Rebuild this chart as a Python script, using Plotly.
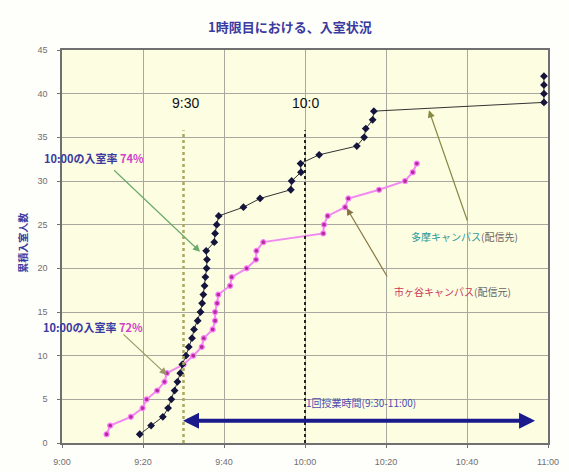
import plotly.graph_objects as go

# Minutes after 9:00 and cumulative number of students who have entered the room
tama_minutes = [19.2, 22.0, 24.9, 26.2, 27.0, 27.8, 28.5, 29.2, 29.7, 30.6, 31.3, 32.1,
                32.6, 33.5, 34.2, 34.6, 34.9, 35.2, 35.4, 35.7, 35.8, 35.6, 37.6, 37.8,
                38.2, 38.7, 44.8, 48.9, 56.5, 56.7, 59.0, 58.9, 63.5, 72.8, 74.6, 75.0,
                76.7, 77.0, 119.0, 119.0, 119.0, 119.0]
tama_count = list(range(1, 43))

ichigaya_minutes = [11.0, 11.9, 17.0, 19.9, 20.9, 23.5, 25.3, 25.9, 30.0, 32.4, 34.5, 35.0,
                    37.2, 37.8, 37.8, 38.3, 38.6, 41.5, 41.9, 45.6, 47.9, 48.0, 49.7, 64.5,
                    64.7, 65.6, 69.9, 70.7, 78.3, 84.7, 86.6, 87.6]
ichigaya_count = list(range(1, 33))

tick_minutes = [0, 20, 40, 60, 80, 100, 120]
tick_labels = ["9:00", "9:20", "9:40", "10:00", "10:20", "10:40", "11:00"]
y_ticks = [0, 5, 10, 15, 20, 25, 30, 35, 40, 45]

CLASS_START = 30
CLASS_MARK = 60
CLASS_END = 120
MARKER_TOP = 35.8

JP = "Noto Sans CJK JP, Arial, sans-serif"

fig = go.Figure()

fig.add_trace(go.Scatter(
    x=ichigaya_minutes, y=ichigaya_count, mode="lines+markers",
    name="市ヶ谷キャンパス(配信元)",
    line=dict(color="#f08af0", width=2),
    marker=dict(symbol="circle", size=5, color="#b0309a",
                line=dict(color="#ff7cff", width=1.2)),
))
fig.add_trace(go.Scatter(
    x=tama_minutes, y=tama_count, mode="lines+markers",
    name="多摩キャンパス(配信先)",
    line=dict(color="#333333", width=1),
    marker=dict(symbol="diamond", size=6, color="#14143c"),
))

# reference lines for 9:30 and 10:00
fig.add_shape(type="line", x0=CLASS_START, x1=CLASS_START, y0=0, y1=MARKER_TOP,
              line=dict(color="#a8a860", width=2.5, dash="dot"))
fig.add_shape(type="line", x0=CLASS_MARK, x1=CLASS_MARK, y0=0, y1=MARKER_TOP,
              line=dict(color="#111111", width=1.8, dash="dot"))

annotations = [
    dict(text="<b>1時限目における、入室状況</b>", xref="paper", yref="paper",
         x=0.469, y=1.089, showarrow=False,
         font=dict(family=JP, size=13, color="#3a3aa0")),
    dict(text="<b>累積入室人数</b>", xref="paper", yref="paper", x=-0.1, y=0.509,
         textangle=-90, showarrow=False, font=dict(family=JP, size=10, color="#3a3aa0")),
    dict(text="9:30", x=30.5, y=38.9, showarrow=False,
         font=dict(family="Arial", size=14, color="#111111")),
    dict(text="10:0", x=60.2, y=38.9, showarrow=False,
         font=dict(family="Arial", size=14, color="#111111")),
    dict(text="<b>10:00の入室率 <span style='color:#d040c8'>74%</span></b>", x=7.9, y=32.6,
         showarrow=False, font=dict(family=JP, size=11, color="#3a3aa0")),
    dict(text="<b>10:00の入室率 <span style='color:#d040c8'>72%</span></b>", x=7.7, y=13.3,
         showarrow=False, font=dict(family=JP, size=11, color="#3a3aa0")),
    dict(text="1回授業時間(9:30-11:00)", x=73.8, y=4.6, showarrow=False,
         font=dict(family=JP, size=10, color="#4a4ab0")),
    dict(text="<span style='color:#2a9a9a'>多摩キャンパス</span>(配信先)", x=99.5, y=23.7,
         showarrow=False, font=dict(family=JP, size=10, color="#666666")),
    dict(text="<span style='color:#c83a5a'>市ヶ谷キャンパス</span>(配信元)", x=96.5, y=17.3,
         showarrow=False, font=dict(family=JP, size=10, color="#666666")),
]

# pointer arrows (head at x,y; tail at ax,ay in data units)
arrows = [
    (34.1, 21.9, 12.5, 31.4, "#6aaa6a", 1.2),
    (25.9, 7.8, 14.8, 12.6, "#999966", 1.2),
    (90.6, 38.1, 100.2, 25.3, "#888844", 1.2),
    (70.3, 26.9, 80.5, 18.9, "#887744", 1.2),
]
for hx, hy, tx, ty, col, w in arrows:
    annotations.append(dict(text="", x=hx, y=hy, ax=tx, ay=ty, axref="x", ayref="y",
                            showarrow=True, arrowhead=2, arrowsize=1.2, arrowwidth=w,
                            arrowcolor=col, standoff=0, startstandoff=0))

# class-period double arrow
annotations.append(dict(text="", x=116.8, y=2.55, ax=CLASS_START - 0.5, ay=2.55,
                        axref="x", ayref="y", showarrow=True, arrowhead=2,
                        arrowside="end+start", arrowsize=0.8, arrowwidth=4,
                        arrowcolor="#1a1a8c", standoff=0, startstandoff=0))

fig.update_layout(
    width=569, height=472,
    margin=dict(l=62, r=21, t=50, b=29),
    paper_bgcolor="#fefefb",
    plot_bgcolor="#fdfde2",
    showlegend=False,
    annotations=annotations,
    xaxis=dict(range=[0, CLASS_END], tickvals=tick_minutes, ticktext=tick_labels,
               automargin=False,
               showgrid=True, gridcolor="#a8a8a0", gridwidth=1, zeroline=False,
               showline=True, linecolor="#707070", linewidth=1.5, mirror=True,
               ticks="outside", ticklen=3, tickcolor="#707070", ticklabelstandoff=6,
               tickfont=dict(family="Arial", size=9, color="#707070")),
    yaxis=dict(range=[0, 45], tickvals=y_ticks, automargin=False,
               showgrid=True, gridcolor="#a8a8a0", gridwidth=1, zeroline=False,
               showline=True, linecolor="#707070", linewidth=1.5, mirror=True,
               ticks="outside", ticklen=3, tickcolor="#707070", ticklabelstandoff=8,
               tickfont=dict(family="Arial", size=9, color="#707070")),
)

fig.write_html("out.html")
